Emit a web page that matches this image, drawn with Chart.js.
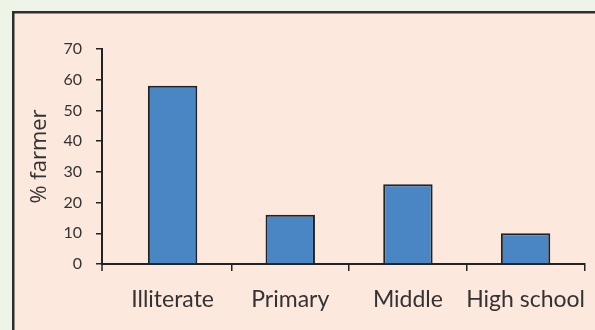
<!DOCTYPE html>
<html>
<head>
<meta charset="utf-8">
<script src="https://cdn.jsdelivr.net/npm/chart.js@4"></script>
<style>
  html, body { margin: 0; padding: 0; background: #eef5e6; }
  #wrap { width: 595px; height: 330px; }
</style>
</head>
<body>
<div id="wrap"><canvas id="c" width="595" height="330"></canvas></div>
<script>
const categories = ['Illiterate', 'Primary', 'Middle', 'High school'];
const farmerShare = [58, 16, 26, 10];
const yTicks = [0, 10, 20, 30, 40, 50, 60, 70];

const INK = '#232323';

// Panel background with a dark frame on the top and left edges
const panel = {
  id: 'panel',
  beforeDraw(chart) {
    const ctx = chart.ctx;
    ctx.save();
    ctx.fillStyle = '#eef5e6';
    ctx.fillRect(0, 0, chart.width, chart.height);
    ctx.fillStyle = '#fde8de';
    ctx.fillRect(13, 12, chart.width - 13, chart.height - 12);
    ctx.strokeStyle = '#2e2e2e';
    ctx.lineWidth = 2.5;
    ctx.beginPath();
    ctx.moveTo(13.25, chart.height);
    ctx.lineTo(13.25, 12.25);
    ctx.lineTo(chart.width, 12.25);
    ctx.stroke();
    ctx.restore();
  },
  afterDraw(chart) {
    // value axis continues a little below the category axis
    const { left, bottom } = chart.chartArea;
    const ctx = chart.ctx;
    ctx.save();
    ctx.strokeStyle = INK;
    ctx.lineWidth = 1.5;
    ctx.beginPath();
    ctx.moveTo(left, bottom);
    ctx.lineTo(left, bottom + 7);
    ctx.stroke();
    ctx.restore();
  }
};

// The first category slot is wider than the others: widen the category
// scale's value range so the slots end flush at the right edge.
const categoryRange = {
  id: 'categoryRange',
  afterLayout(chart) {
    const x = chart.scales.x;
    x._startValue = -0.6;
    x._valueRange = 4.105;
  }
};

const font = 'Lato, "Open Sans", sans-serif';

new Chart(document.getElementById('c'), {
  type: 'bar',
  data: {
    labels: categories,
    datasets: [{
      data: farmerShare,
      backgroundColor: '#4a86c4',
      borderColor: INK,
      borderWidth: 2,
      borderSkipped: 'bottom',
      categoryPercentage: 0.42,
      barPercentage: 1
    }]
  },
  options: {
    responsive: false,
    animation: false,
    devicePixelRatio: 1,
    layout: { padding: { top: 49, right: 10, bottom: 0, left: 0 } },
    plugins: { legend: { display: false }, tooltip: { enabled: false } },
    scales: {
      x: {
        afterFit(s) {
          s.height = 66;
          s.paddingLeft = 0;
          s.paddingRight = 0;
        },
        grid: {
          drawOnChartArea: false,
          tickLength: 7,
          color: (c) => (c.index === 0 ? 'rgba(0,0,0,0)' : INK),
          lineWidth: 1.5,
          offset: true
        },
        border: { display: true, color: INK, width: 2 },
        ticks: {
          color: '#333',
          font: { family: font, size: 23 },
          padding: 15,
          autoSkip: false,
          maxRotation: 0,
          minRotation: 0
        }
      },
      y: {
        min: 0,
        max: 70,
        afterFit(s) {
          s.width = 102;
          s.paddingTop = 0;
          s.paddingBottom = 0;
        },
        afterBuildTicks(s) { s.ticks = yTicks.map(v => ({ value: v })); },
        grid: { drawOnChartArea: false, tickLength: 6, color: INK, lineWidth: 1.5 },
        border: { display: true, color: INK, width: 2 },
        ticks: { color: '#333', font: { family: font, size: 16 }, padding: 14 },
        title: {
          display: true,
          text: '% farmer',
          color: '#333',
          font: { family: '"Open Sans", Lato, sans-serif', size: 22 },
          padding: { top: 27, bottom: 0 }
        }
      }
    }
  },
  plugins: [panel, categoryRange]
});
</script>
</body>
</html>
